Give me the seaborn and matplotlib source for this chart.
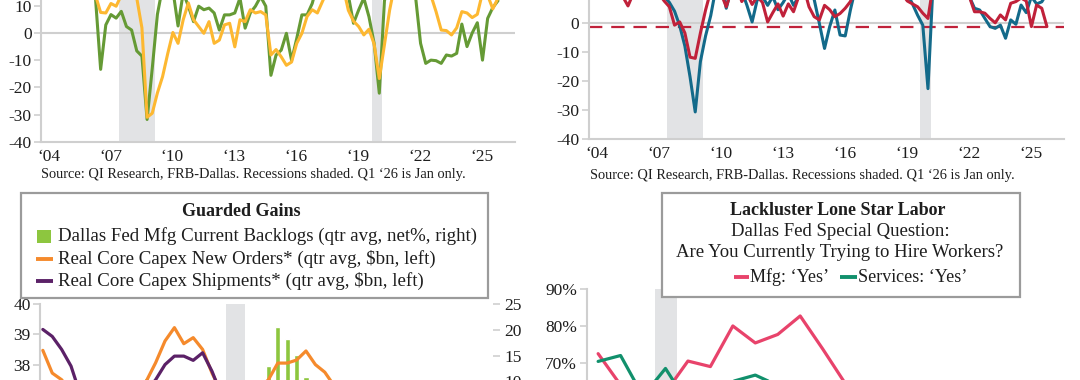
import numpy as np
import pandas as pd
import matplotlib
matplotlib.use("Agg")
import matplotlib.pyplot as plt
from matplotlib.patches import Rectangle
from matplotlib.lines import Line2D
import seaborn as sns

# ---------------- data ----------------
# top panels: quarterly Q1 2004 .. Q1 2026 (plotted mid-quarter)
tl_green = [18, 22, 20, 24, 21, 19, 23, 20, 17, 16, 13, -13.3,
            3.1, 6.9, 5.6, 8.1, 2.5, 1.2, -6.5, -8.4, -31.8, -13, 7, 17,
            19, 16, 2.7, 15, 10, 4.3, 10, 8.7, 9.3, 7.5, 1.2, 6.8,
            6.8, 7.5, 13, 1.9, 7.5, 10, 13.5, 10, -15.5, -8, -6.2, 0,
            -10, -1.9, 6.8, 6.8, 11, 18, 20, 24, 22, 25, 21, 14,
            3.7, 8.6, 13, 6.1, -3.7, -22.1, 12, 20, 24, 30, 22, 25,
            14, -3.7, -11.1, -9.9, -10.1, -11.1, -8.0, -8.4, -7.4, 3.4, -4.9, 0.1,
            3.9, -9.9, 5.5, 9.5, 12]
tl_yellow = [15, 18, 17, 20, 19, 16, 18, 21, 17, 15, 14, 7.7,
             7.5, 11, 10, 14, 16, 17, 13, 2, -31, -29.5, -22, -16,
             -7.5, 0.3, -3.7, 5, 11.2, 5, 2.5, 0, 4.3, -3.7, -2.5, 3.1,
             3.7, -5, 5, 4.3, 8.7, 7.5, 8, 6.8, -8, -6, -8.7, -11.8,
             -10.6, -3.7, 0, 6.2, 8.7, 7.5, 11.8, 16, 19, 21, 17, 8.5,
             4.5, 2.5, -0.6, 1.5, -4, -16.7, -4.2, 8.5, 18, 27, 20, 22,
             17, 15, 16, 14, 8, 1.2, 1.0, -0.6, 2, 8, 7.5, 5.8,
             7, 15, 14, 9, 13]
tr_red = [12, 15, 14, 11, 13, 10, 9, 5.8, 10, 14, 16, 13,
          12, 10, 7.5, 5.5, -0.8, 0.3, -3.5, -11.8, -12.2, -3.5, 4.4, 11,
          13, 10, 5.5, 11, 13, 7.3, 10, 6.3, 9, 7, 0.3, 3.5,
          6.5, 2.3, 6.5, 3.8, 9, 12, 5.5, 2.1, 1.0, 6, 4.5, 2.1,
          3.2, 5, 7.3, 12, 15, 18, 16, 17, 19, 20, 16, 13,
          10, 7.5, 6.5, 5.5, 3.3, 1.5, 13, 15, 20, 25, 22, 18,
          14, 9, 3.8, 3.8, 3.3, 1.5, 0.0, 2.7, 1.0, 6.7, 7.3, 8.5,
          7.5, -1.3, 6.1, 5.0, -1.3]
tr_blue = [14, 17, 15, 13, 16, 12, 11, 10, 12, 15, 17, 14,
           13, 11, 9, 7, 4, -1, -8, -18.6, -30.6, -13.3, -4.5, 2.5,
           12, 14, 5, 12, 15, 11, 6, 0.3, 8, 9, 6, 9,
           4.5, 7, 10, 6, 9, 12, 14, 8, -0.2, -8.8, -1.3, 4.4,
           -4.2, -4.5, 4.4, 12, 16, 18, 17, 19, 21, 22, 18, 14,
           12, 10, 6.5, 2.6, -0.8, -22.6, 14, 18, 24, 28, 25, 20,
           15, 9, 5, 4.4, 1.5, -1.3, -1.9, -0.8, -5.3, 1.0, -0.5, 6.1,
           3.5, 9, 6.5, 7.2, 10]
tr_red_latest = -1.6
recessions = [(2007.75, 2009.5), (2020.0, 2020.5)]
top_years = [2004, 2007, 2010, 2013, 2016, 2019, 2022, 2025]
source_note = "Source: QI Research, FRB-Dallas. Recessions shaded. Q1 \u201826 is Jan only."

# bottom-left: quarterly Q1 2015 .. Q1 2026
bl_backlogs = [-8, -11, -12, -10, -14, -10, -6, -3, 4, 7, 8, 10.6,
               9, 8, 6, 4, 2, -3, -4, -6, -8, -25, -10, -3,
               12.9, 20.6, 18.2, 15.1, 10.9, 5, -2, -8, -10, -14, -12, -15,
               -9, -10, -8, -7, -6, -10, -9, -5, -3]
bl_orders = [38.47, 37.72, 37.5, 37.1, 36.8, 36.6, 36.7, 36.9, 37.0, 37.2, 37.1, 37.45,
             38.06, 38.78, 39.22, 38.69, 38.89, 38.5, 37.72, 37.1, 35.0, 36.2, 37.0, 37.2,
             37.5, 38.05, 38.05, 38.15, 38.45, 38.0, 37.75, 37.3, 37.0, 36.8, 36.9, 36.7,
             36.8, 37.0, 36.9, 37.1, 37.0, 37.2, 37.1, 37.3, 37.2]
bl_shipments = [39.16, 38.93, 38.5, 37.95, 37.0, 36.8, 36.6, 36.5, 36.6, 36.8, 36.9, 37.1,
                37.5, 38.0, 38.28, 38.28, 38.14, 38.39, 37.78, 37.0, 35.6, 36.1, 36.6, 37.0,
                37.2, 37.3, 37.4, 37.3, 37.2, 37.1, 37.0, 36.9, 36.9, 37.0, 37.1, 37.0,
                36.9, 37.0, 37.1, 37.2, 37.1, 37.2, 37.3, 37.2, 37.3]

# bottom-right: special question survey rounds
br_mfg = [72.5, 64.0, 60.0, 62.0, 70.5, 69.0, 80.0, 75.4, 77.7, 82.7, 73.8, 64.5, 58.0, 55.0]
br_services = [70.4, 72.0, 61.0, 68.5, 59.0, 61.5, 65.0, 66.7, 63.9, 60.0, 58.0, 57.0, 55.0, 54.0]
br_shade = (2.52, 3.51)

# ---------------- style ----------------
sns.set_theme(style="white")
plt.rcParams["font.family"] = ["Liberation Serif", "DejaVu Serif"]
plt.rcParams["axes.unicode_minus"] = False

GRID = "#cfcfcf"
SHADE = "#e2e3e5"
TXT = "#1e1e1e"
W, H = 1080, 380

fig = plt.figure(figsize=(W / 100, H / 100), dpi=100)


def fx(px):
    return px / W


def fy(py):
    return 1 - py / H


def box_axes(left, top, right, bottom):
    return fig.add_axes([fx(left), fy(bottom), fx(right) - fx(left), fy(top) - fy(bottom)])


def quarter_x(start, n):
    q = pd.period_range(start, periods=n, freq="Q")
    return np.asarray(q.year + (q.quarter - 1) / 4 + 0.125, dtype=float)


def style_axis(ax):
    for s in ["top", "right"]:
        ax.spines[s].set_visible(False)
    for s in ["left", "bottom"]:
        ax.spines[s].set_color(GRID)
        ax.spines[s].set_linewidth(1.5)
    ax.tick_params(axis="y", length=5, width=1.2, color=GRID, labelsize=12.5,
                   labelcolor=TXT, pad=2, left=True)
    ax.tick_params(axis="x", length=0, labelsize=12.5, labelcolor=TXT, pad=5)
    ax.set_xlabel("")
    ax.set_ylabel("")


def top_panel(left, right, bottom_px, zero_px, px_per_unit, s1, c1, s2, c2, yticks):
    ax = box_axes(left, 0, right, bottom_px)
    x = quarter_x("2004Q1", len(s1))
    for a, b in recessions:
        ax.axvspan(a, b, color=SHADE, lw=0, zorder=0)
    ax.axhline(0, color=GRID, lw=1.5, zorder=1)
    sns.lineplot(x=x, y=s1, ax=ax, color=c1, lw=2.2, zorder=3)
    sns.lineplot(x=x, y=s2, ax=ax, color=c2, lw=2.2, zorder=4)
    ax.set_yticks(yticks)
    ax.set_yticklabels([str(t) for t in yticks])
    ax.set_xticks([y + 0.35 for y in top_years])
    ax.set_xticklabels(["\u2018%02d" % (y % 100) for y in top_years])
    ax.set_xlim(2004, 2026.95)
    ax.set_ylim(-40, zero_px / px_per_unit)
    style_axis(ax)
    return ax


# top-left
top_panel(41.3, 515, 141.7, 33.3, 2.71, tl_green, "#659a35", tl_yellow, "#fdb831",
          [-40, -30, -20, -10, 0, 10])
fig.text(fx(41), fy(174.5), source_note, ha="left", va="center", fontsize=10.35, color=TXT)

# top-right
ax_tr = top_panel(589.2, 1064, 139.3, 22.8, 2.91, tr_blue, "#136a8a", tr_red, "#c0213a",
                  [-40, -30, -20, -10, 0])
ax_tr.axhline(tr_red_latest, color="#c0213a", lw=1.6, ls=(0, (6, 4)), zorder=2)
fig.text(fx(590), fy(175), source_note, ha="left", va="center", fontsize=10.35, color=TXT)

# ---------------- bottom-left ----------------
ax_bl = box_axes(40.4, 304, 493, 516.1)
ax_blr = ax_bl.twinx()
xb = quarter_x("2015Q1", len(bl_orders))
ax_blr.axvspan(2020.0, 2020.5, color=SHADE, lw=0, zorder=0)
sns.barplot(x=xb, y=bl_backlogs, ax=ax_blr, native_scale=True, width=0.55,
            color="#8dc63f", saturation=1, errorbar=None, zorder=2)
sns.lineplot(x=xb, y=bl_orders, ax=ax_bl, color="#f58a2c", lw=2.3, zorder=3)
sns.lineplot(x=xb, y=bl_shipments, ax=ax_bl, color="#5b2167", lw=2.3, zorder=4)
ax_bl.set_zorder(ax_blr.get_zorder() + 1)
ax_bl.patch.set_visible(False)
ax_bl.set_yticks([38, 39, 40])
ax_blr.set_yticks([10, 15, 20, 25])
ax_bl.set_xticks([])
ax_bl.set_xlim(2015.06, 2027.1)
ax_bl.set_ylim(33, 40)
ax_blr.set_ylim(25 - 212.1 / 5.16, 25)
style_axis(ax_bl)
ax_bl.spines["bottom"].set_visible(False)
for s in ax_blr.spines.values():
    s.set_visible(False)
ax_blr.tick_params(axis="y", length=5, width=1.2, color=GRID, labelsize=12.5,
                   labelcolor=TXT, pad=3, right=True)
ax_blr.set_xlabel("")
ax_blr.set_ylabel("")

# legend box
fig.add_artist(Rectangle((fx(21), fy(298)), fx(488) - fx(21), fy(193.4) - fy(298),
                         transform=fig.transFigure, facecolor="white",
                         edgecolor="#9b9b9b", lw=1.6, zorder=5))
fig.text(fx(241), fy(212), "Guarded Gains", ha="center", va="center",
         fontsize=13, fontweight="bold", color=TXT, zorder=6)
fig.add_artist(Rectangle((fx(37), fy(242.5)), fx(51) - fx(37), fy(229.5) - fy(242.5),
                         transform=fig.transFigure, facecolor="#8dc63f", lw=0, zorder=6))
for yy, col in [(259, "#f58a2c"), (281, "#5b2167")]:
    fig.add_artist(Line2D([fx(36), fx(53)], [fy(yy), fy(yy)], transform=fig.transFigure,
                          color=col, lw=2.8, solid_capstyle="butt", zorder=6))
legend_rows = ["Dallas Fed Mfg Current Backlogs (qtr avg, net%, right)",
               r"Real Core Capex New Orders* (qtr avg, \$bn, left)",
               r"Real Core Capex Shipments* (qtr avg, \$bn, left)"]
for yy, label in zip([236, 259, 281], legend_rows):
    fig.text(fx(58), fy(yy), label, ha="left", va="center", fontsize=13.6,
             color=TXT, zorder=6)

# ---------------- bottom-right ----------------
ax_br = box_axes(586.9, 289, 1064, 473.75)
xr = np.arange(len(br_mfg))
ax_br.axvspan(br_shade[0], br_shade[1], color=SHADE, lw=0, zorder=0)
sns.lineplot(x=xr, y=br_mfg, ax=ax_br, color="#e8436b", lw=2.3, zorder=3)
sns.lineplot(x=xr, y=br_services, ax=ax_br, color="#11906c", lw=2.3, zorder=4)
ax_br.set_yticks([70, 80, 90])
ax_br.set_yticklabels(["70%", "80%", "90%"])
ax_br.set_xticks([])
ax_br.set_xlim(-0.5, 20.75)
ax_br.set_ylim(40, 90)
style_axis(ax_br)
ax_br.spines["bottom"].set_visible(False)

fig.add_artist(Rectangle((fx(661.6), fy(297.4)), fx(1019.5) - fx(661.6), fy(193.4) - fy(297.4),
                         transform=fig.transFigure, facecolor="white",
                         edgecolor="#9b9b9b", lw=1.6, zorder=5))
fig.text(fx(838), fy(211), "Lackluster Lone Star Labor", ha="center", va="center",
         fontsize=13, fontweight="bold", color=TXT, zorder=6)
fig.text(fx(840), fy(232), "Dallas Fed Special Question:", ha="center", va="center",
         fontsize=13.5, color=TXT, zorder=6)
fig.text(fx(840), fy(252.5), "Are You Currently Trying to Hire Workers?", ha="center",
         va="center", fontsize=13.5, color=TXT, zorder=6)
for x0, x1, col, label in [(733.5, 749, "#e8436b", "Mfg: \u2018Yes\u2019"),
                           (839.7, 856.8, "#11906c", "Services: \u2018Yes\u2019")]:
    fig.add_artist(Line2D([fx(x0), fx(x1)], [fy(277.3), fy(277.3)], transform=fig.transFigure,
                          color=col, lw=2.8, solid_capstyle="butt", zorder=6))
    fig.text(fx(x1 + 1.5), fy(277.3), label, ha="left", va="center", fontsize=13,
             color=TXT, zorder=6)

fig.savefig("out.png", dpi=100)
